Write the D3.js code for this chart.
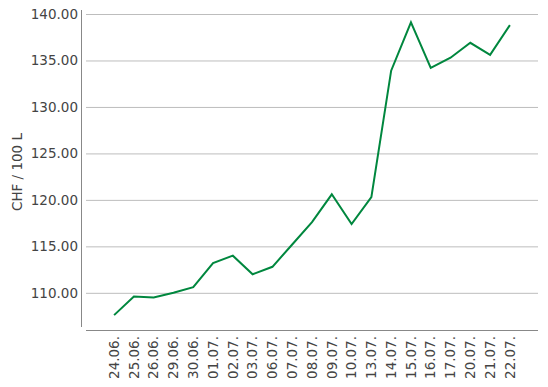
<!DOCTYPE html>
<meta charset="utf-8">
<style>
body { margin: 0; background: #fff; }
text { font-family: "DejaVu Sans", sans-serif; fill: #444; }
.grid line { stroke: #bdbdbd; stroke-width: 1; }
.grid path { display: none; }
</style>
<svg width="548" height="387"></svg>
<script src="https://cdn.jsdelivr.net/npm/d3@7"></script>
<script>

var dates = ["24.06.", "25.06.", "26.06.", "29.06.", "30.06.", "01.07.", "02.07.",
             "03.07.", "06.07.", "07.07.", "08.07.", "09.07.", "10.07.", "13.07.",
             "14.07.", "15.07.", "16.07.", "17.07.", "20.07.", "21.07.", "22.07."];

var prices = [107.6, 109.6, 109.5, 110.0, 110.6, 113.2, 114.0,
              112.0, 112.8, 115.2, 117.6, 120.6, 117.4, 120.3,
              133.9, 139.1, 134.2, 135.3, 136.9, 135.6, 138.8];

var yTicks = [110, 115, 120, 125, 130, 135, 140];

var svg = d3.select("svg"),
    plotLeft = 86, plotRight = 538, plotTop = 14, plotBottom = 330;

var x = d3.scalePoint()
    .domain(dates)
    .range([plotLeft, plotRight])
    .padding(1.42);

var y = d3.scaleLinear()
    .domain([106, 140])
    .range([plotBottom, plotTop]);

// gridlines
svg.append("g")
    .attr("class", "grid")
    .attr("transform", "translate(" + plotLeft + ",0)")
    .call(d3.axisRight(y).tickValues(yTicks).tickSize(plotRight - plotLeft).tickFormat(""));

// y axis line + labels
svg.append("line")
    .attr("x1", 81.5).attr("x2", 81.5)
    .attr("y1", 10).attr("y2", 327)
    .attr("stroke", "#888");

svg.append("g")
    .selectAll("text")
    .data(yTicks)
    .enter().append("text")
    .attr("x", 78)
    .attr("y", function(d) { return y(d); })
    .attr("dy", "0.35em")
    .attr("text-anchor", "end")
    .style("font-size", "13.5px")
    .text(function(d) { return d3.format(".2f")(d); });

// x axis line + labels
svg.append("line")
    .attr("x1", plotLeft).attr("x2", plotRight)
    .attr("y1", 330.5).attr("y2", 330.5)
    .attr("stroke", "#888");

svg.append("g")
    .selectAll("text")
    .data(dates)
    .enter().append("text")
    .attr("transform", function(d) { return "translate(" + x(d) + ",336) rotate(-90)"; })
    .attr("dy", "0.35em")
    .attr("text-anchor", "end")
    .style("font-size", "13.5px")
    .text(function(d) { return d; });

// axis title
svg.append("text")
    .attr("transform", "translate(17," + ((plotTop + plotBottom) / 2) + ") rotate(-90)")
    .attr("dy", "0.35em")
    .attr("text-anchor", "middle")
    .style("font-size", "13.5px")
    .text("CHF / 100 L");

var line = d3.line()
    .x(function(d, i) { return x(dates[i]); })
    .y(function(d) { return y(d); });

svg.append("path")
    .datum(prices)
    .attr("fill", "none")
    .attr("stroke", "#00873e")
    .attr("stroke-width", 2)
    .attr("d", line);

</script>
